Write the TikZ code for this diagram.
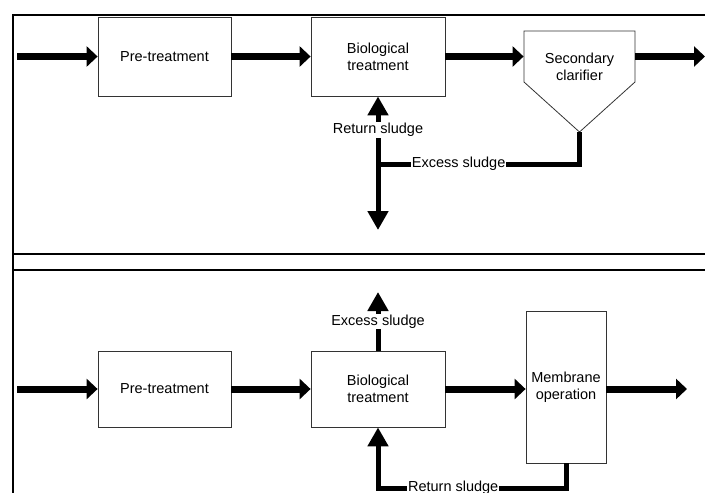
\documentclass[tikz,border=0pt]{standalone}
\usepackage{fontspec}
\setsansfont{Liberation Sans}
\usetikzlibrary{arrows.meta}

\tikzset{
	unit/.style={draw=black!80, line width=0.8pt, align=center, inner sep=0pt, font=\sffamily\fontsize{14.5}{17}\selectfont},
	flow/.style={line width=7pt, -{Triangle[length=11pt,width=20pt]}},
	sludge/.style={line width=5pt, -{Triangle[length=19pt,width=20pt]}},
	tag/.style={fill=white, inner sep=1pt, font=\sffamily\fontsize{14.5}{17}\selectfont},
	frame/.style={line width=1.6pt}
}

\begin{document}
\begin{tikzpicture}[x=1pt, y=-1pt]
	\clip (0,0) rectangle (705,493);
	\draw[frame] (13,500) -- (13,15) -- (710,15);
	\draw[frame] (13,254) -- (710,254);
	\draw[frame] (13,270) -- (710,270);

	\coordinate (in1) at (17,56.5);
	\coordinate (out1) at (705,56.5);
	\node[unit, minimum width=133pt, minimum height=79pt] (pre1) at (164.5,56.5) {Pre-treatment};
	\node[unit, minimum width=134pt, minimum height=79pt] (bio1) at (378,56.5) {Biological\\treatment};
	\node[unit, draw=none, minimum width=111pt] (clar) at (579.5,67) {Secondary\\clarifier};
	\coordinate (tip1) at (579.5,132);
	\draw[black!80, line width=0.8pt] (524,31) -- (635,31) -- (635,82) -- (tip1) -- (524,82) -- cycle;

	\draw[flow] (in1) -- (pre1.west);
	\draw[flow] (pre1) -- (bio1);
	\draw[flow] (bio1) -- (bio1 -| clar.west);
	\draw[flow] (bio1 -| clar.east) -- (out1);

	\coordinate (junc1) at (378,164);
	\coordinate (drain1) at (378,230);
	\draw[sludge, -] (tip1) |- node[tag, pos=0.8] {Excess sludge} (junc1);
	\draw[sludge] (junc1) -- (drain1);
	\draw[sludge] (junc1) -- node[tag] {Return sludge} (bio1);

	\coordinate (in2) at (17,389);
	\coordinate (out2) at (687,389);
	\node[unit, minimum width=133pt, minimum height=76pt] (pre2) at (164.5,389) {Pre-treatment};
	\node[unit, minimum width=134pt, minimum height=76pt] (bio2) at (378,389) {Biological\\treatment};
	\node[unit, minimum width=80pt, minimum height=152pt] (mem) at (566,387) {Membrane\\operation};

	\draw[flow] (in2) -- (pre2.west);
	\draw[flow] (pre2) -- (bio2);
	\draw[flow] (bio2) -- (bio2 -| mem.west);
	\draw[flow] (bio2 -| mem.east) -- (out2);

	\coordinate (vent2) at (378,292);
	\coordinate (ret2) at (378,488);
	\draw[sludge] (bio2.north) -- node[tag] {Excess sludge} (vent2);
	\draw[sludge] (mem.south) |- node[tag, pos=0.8] {Return sludge} (ret2) -- (bio2.south);
\end{tikzpicture}
\end{document}
